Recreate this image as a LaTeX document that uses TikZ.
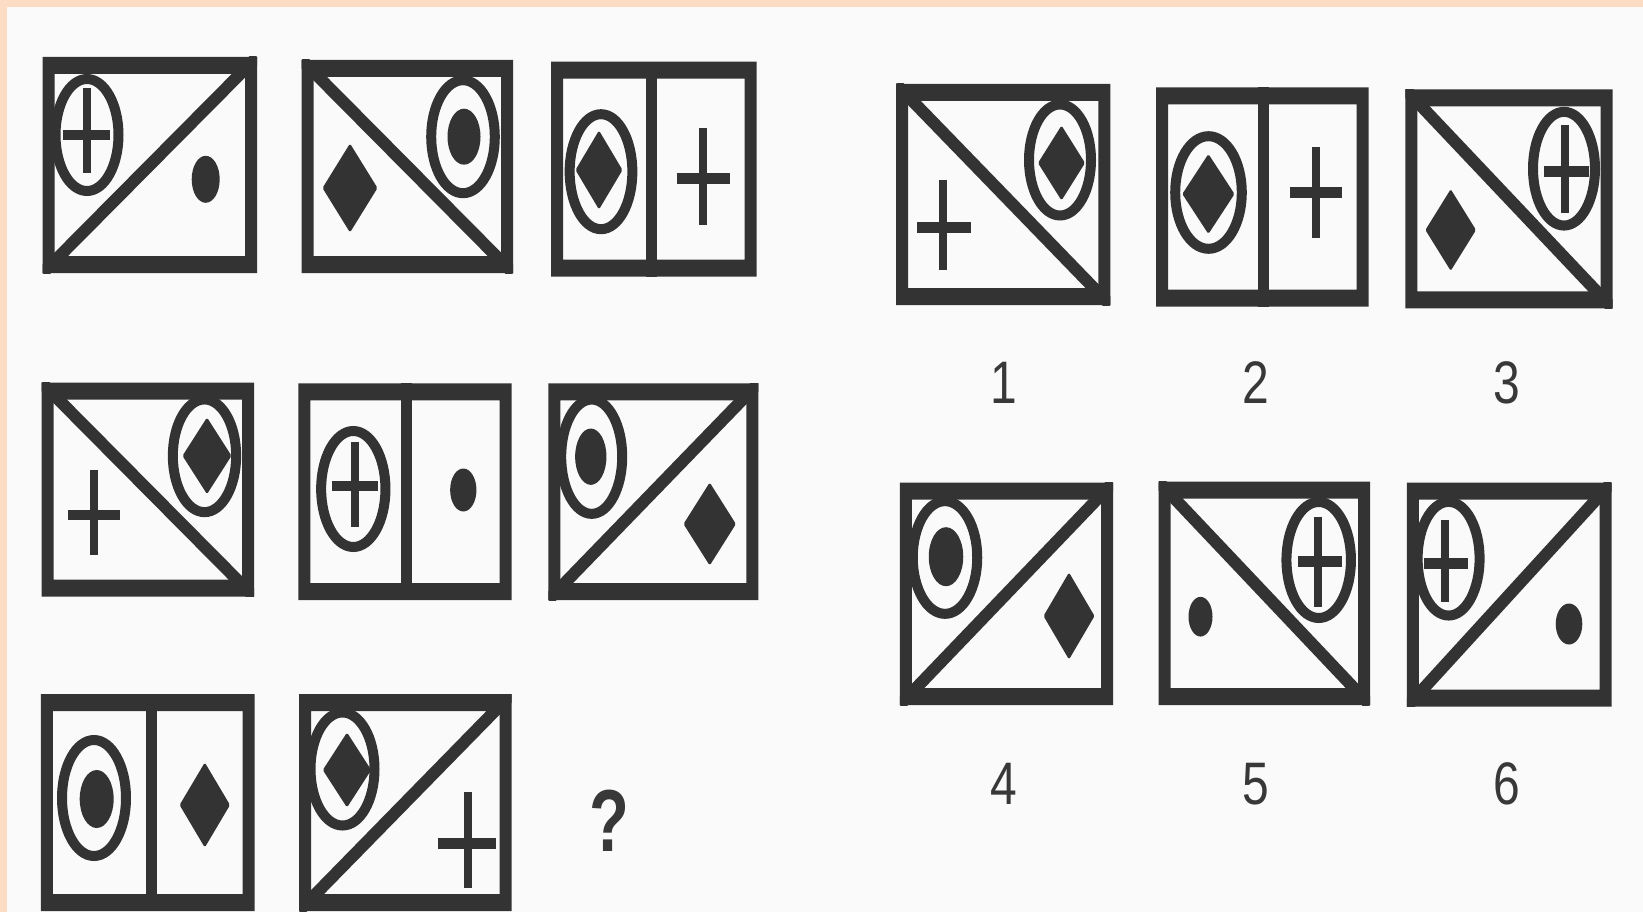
\documentclass[tikz,border=0pt]{standalone}
\usepackage{fontspec}
\newfontfamily\labfont{Liberation Sans}
\definecolor{ink}{HTML}{333333}
\definecolor{paper}{HTML}{FAFAFA}
\definecolor{peach}{HTML}{FDDCC4}
\definecolor{labink}{HTML}{383838}
% frame of a card
\newcommand\pzFrame[4]{\fill[ink,even odd rule] (#1,#2) rectangle (#3,#4) (#1+12,#2+17) rectangle (#3-12,#4-17);}
\newcommand\pzDiagUp[4]{\begin{scope}\clip (#1,#2) rectangle (#3,#4);\draw[ink,line width=12pt] (#1,#4) -- (#3,#2);\end{scope}}
\newcommand\pzDiagDn[4]{\begin{scope}\clip (#1,#2) rectangle (#3,#4);\draw[ink,line width=12pt] (#1,#2) -- (#3,#4);\end{scope}}
\newcommand\pzDiv[3]{\draw[ink,line width=10.5pt] (#1,#2) -- (#1,#3);}
\newcommand\pzRing[4]{\draw[ink,line width=10pt] (#1,#2) ellipse [x radius={(#3-9)/2}, y radius={(#4-9)/2}];}
\newcommand\pzDot{\pzDotX}
\newcommand\pzDotX[4]{\fill[ink] (#1,#2) ellipse [x radius={#3/2+1.5}, y radius={#4/2+1.5}];}
\newcommand\pzDia[4]{\fill[ink,rounded corners=1.5pt] (#1-#3-2.5,#2) -- (#1,#2-#4-2.5) -- (#1+#3+2.5,#2) -- (#1,#2+#4+2.5) -- cycle;}
% plus: horizontal x1 x2 at y ; vertical at x from y1 to y2
\newcommand\pzPlus[6]{\draw[ink,line width=10.5pt] (#1,#3) -- (#2,#3);\draw[ink,line width=8pt] (#4,#5) -- (#4,#6);}
\begin{document}
\begin{tikzpicture}[x=1pt,y=-1pt,
  lab/.style={font=\fontsize{60}{60}\selectfont\labfont, text=labink, inner sep=0pt}]
\useasboundingbox (0,0) rectangle (1643,912);
\clip (0,0) rectangle (1643,912);
\fill[paper] (0,0) rectangle (1643,912);
\fill[peach] (0,0) rectangle (1643,7.3);
\fill[peach] (0,0) rectangle (6.7,912);

% ---------- left: row 1 ----------
% A1
\pzDiagUp{42.7}{57}{257}{273}
\pzRing{87}{135}{72}{121}
\pzPlus{63}{110}{135}{87}{88}{173}
\pzDot{205.7}{179.3}{25}{44}
\pzFrame{42.7}{57}{257}{273}
% A2
\pzDiagDn{301.7}{60}{513}{273}
\pzRing{463}{136.7}{72.6}{122}
\pzDot{464}{136.7}{30}{53}
\pzDia{350}{188}{25}{42}
\pzFrame{301.7}{60}{513}{273}
% A3
\pzDiv{651.7}{61.7}{276.7}
\pzRing{601}{171.7}{71.7}{124}
\pzDia{599}{170}{21}{37}
\pzPlus{676.7}{730}{178.3}{703.3}{128.3}{225}
\pzFrame{551}{61.7}{756.7}{276.7}

% ---------- left: row 2 ----------
% B1
\pzDiagDn{41.7}{382.7}{254}{596.7}
\pzRing{204.5}{455.8}{72.3}{121.7}
\pzDia{207}{455.8}{22}{35.8}
\pzPlus{68.3}{120}{515}{94}{470}{555}
\pzFrame{41.7}{382.7}{254}{596.7}
% B2
\pzDiv{406.7}{383.3}{600}
\pzRing{353.3}{489}{73.3}{125}
\pzPlus{331.7}{378.3}{486}{355}{441.7}{526.7}
\pzDot{463.3}{490}{23.3}{40}
\pzFrame{298.3}{383.3}{511.7}{600}
% B3
\pzDiagUp{548.3}{383.3}{758.3}{600}
\pzRing{591.7}{456.7}{70}{123.3}
\pzDot{590.8}{456.7}{28.3}{53.3}
\pzDia{709.7}{524}{23.7}{39}
\pzFrame{548.3}{383.3}{758.3}{600}

% ---------- left: row 3 ----------
% C1
\pzDiv{151.7}{694}{911}
\pzRing{94}{798}{73}{125}
\pzDot{96.7}{799}{31}{55}
\pzDia{204.8}{805}{22.7}{40}
\pzFrame{40.8}{694}{254.7}{911}
% C2
\pzDiagUp{299}{694}{511.5}{911}
\pzRing{342.5}{769}{73}{122}
\pzDia{347}{770}{21.7}{35}
\pzPlus{438}{496}{843.3}{468}{791.7}{888.3}
\pzFrame{299}{694}{511.5}{911}
\node[font=\fontsize{88}{88}\selectfont\labfont\bfseries, text=labink, inner sep=0pt] (q) at (609,821) {\scalebox{0.74}[1]{?}};

% ---------- right: options 1-3 ----------
% O1
\pzDiagDn{896}{84}{1110.3}{305}
\pzRing{1060}{160}{71}{120}
\pzDia{1061.5}{163}{21}{35}
\pzPlus{917}{971}{227.7}{943.4}{180}{270}
\pzFrame{896}{84}{1110.3}{305}
% O2
\pzDiv{1263.6}{87.3}{306.7}
\pzRing{1208.5}{192.5}{75.6}{121.6}
\pzDia{1208.4}{194}{23.6}{37.5}
\pzPlus{1289.8}{1342.3}{192.7}{1316}{146.7}{238.3}
\pzFrame{1156}{87.3}{1368.5}{306.7}
% O3
\pzDiagDn{1405.3}{89.3}{1612.6}{308.3}
\pzRing{1564}{168.7}{71}{122.7}
\pzPlus{1544.4}{1589}{171.7}{1565.4}{125}{213.3}
\pzDia{1450.7}{230}{22.8}{38.3}
\pzFrame{1405.3}{89.3}{1612.6}{308.3}

\node[lab] (n1) at (1003.7,383) {\scalebox{0.8}[1]{1}};
\node[lab] (n2) at (1255.7,383) {\scalebox{0.8}[1]{2}};
\node[lab] (n3) at (1506.6,383) {\scalebox{0.8}[1]{3}};

% ---------- right: options 4-6 ----------
% O4
\pzDiagUp{899.8}{482.7}{1113}{705}
\pzRing{945}{557.5}{73.5}{121.7}
\pzDot{946}{556.7}{31.5}{56}
\pzDia{1069}{616}{23}{41}
\pzFrame{899.8}{482.7}{1113}{705}
% O5
\pzDiagDn{1158.6}{481.7}{1370}{705}
\pzRing{1318.7}{560}{73.5}{125}
\pzPlus{1297.7}{1342.3}{561.7}{1317.6}{516.7}{606.7}
\pzDot{1200.5}{616.7}{21}{36.7}
\pzFrame{1158.6}{481.7}{1370}{705}
% O6
\pzDiagUp{1406.9}{482.7}{1611.6}{706.7}
\pzRing{1448.6}{558.7}{71}{122.7}
\pzPlus{1423.7}{1468.3}{563.3}{1444.7}{520}{601.7}
\pzDot{1569}{624}{23.6}{38}
\pzFrame{1406.9}{482.7}{1611.6}{706.7}

\node[lab] (n4) at (1003.7,784) {\scalebox{0.8}[1]{4}};
\node[lab] (n5) at (1255.7,784) {\scalebox{0.8}[1]{5}};
\node[lab] (n6) at (1506.6,784) {\scalebox{0.8}[1]{6}};
\end{tikzpicture}
\end{document}
